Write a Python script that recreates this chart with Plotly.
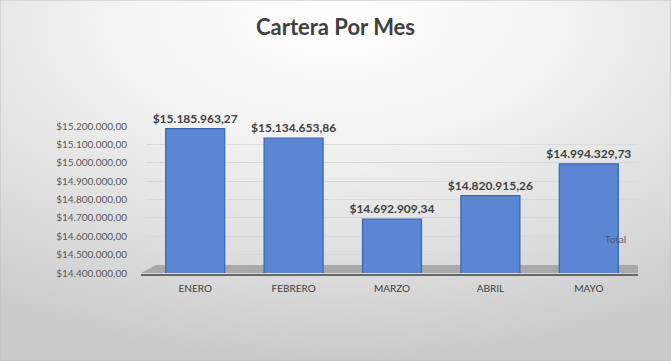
import base64
import plotly.graph_objects as go

meses = ["ENERO", "FEBRERO", "MARZO", "ABRIL", "MAYO"]
cartera = [15185963.27, 15134653.86, 14692909.34, 14820915.26, 14994329.73]
tick_vals = [14400000, 14500000, 14600000, 14700000, 14800000, 14900000, 15000000, 15100000, 15200000]


def fmt_es(v):
    s = f"{v:,.2f}"
    return "$" + s.replace(",", "X").replace(".", ",").replace("X", ".")


tick_text = [fmt_es(v) for v in tick_vals]
labels = [fmt_es(v) for v in cartera]

W, H = 671, 361
ML, MR, MT, MB = 146, 33, 126, 88
PW, PH = W - ML - MR, H - MT - MB

svg = (
    f'<svg xmlns="http://www.w3.org/2000/svg" width="{W}" height="{H}">'
    '<defs><radialGradient id="g" cx="50%" cy="5%" r="95%" fx="50%" fy="5%">'
    '<stop offset="0" stop-color="#ffffff"/>'
    '<stop offset="0.35" stop-color="#f3f3f3"/>'
    '<stop offset="0.7" stop-color="#dedede"/>'
    '<stop offset="1" stop-color="#cacaca"/>'
    '</radialGradient></defs>'
    f'<rect width="{W}" height="{H}" fill="url(#g)"/></svg>'
)
src = "data:image/svg+xml;base64," + base64.b64encode(svg.encode()).decode()

fig = go.Figure()
fig.add_trace(go.Bar(
    x=meses, y=cartera, text=labels, textposition="outside",
    cliponaxis=False, width=0.6, constraintext="none",
    marker=dict(color="#5a86d3", line=dict(color="#3b64b3", width=1.2)),
    textfont=dict(family="Lato", size=12, color="#404040", weight="bold"),
    name="Total", showlegend=False,
))

fig.update_layout(
    width=W, height=H,
    margin=dict(l=ML, r=MR, t=MT, b=MB),
    paper_bgcolor="white", plot_bgcolor="rgba(0,0,0,0)",
    title=dict(text="<b>Cartera Por Mes</b>", x=0.5, xref="container", xanchor="center",
               y=1 - 27 / H, yref="container", yanchor="middle",
               font=dict(family="Lato", size=22, color="#404040")),
    font=dict(family="Lato", color="#595959"),
    bargap=0.4,
    images=[dict(source=src, xref="paper", yref="paper", x=-ML / PW, y=1 + MT / PH,
                 sizex=W / PW, sizey=H / PH, sizing="stretch", xanchor="left",
                 yanchor="top", layer="below")],
    shapes=[
        dict(type="path", xref="paper", yref="paper",
             path=f"M 0.02 {8/PH} L 1.0 {8/PH} L 1.0 0 L -0.01 0 Z",
             fillcolor="#a9a9a9", line=dict(width=0), layer="below"),
        dict(type="line", xref="paper", yref="paper", x0=-0.01, x1=1.0, y0=-2 / PH, y1=-2 / PH,
             line=dict(color="#404040", width=1.5)),
        dict(type="rect", xref="paper", yref="paper", x0=-ML / PW, x1=1 + MR / PW,
             y0=-MB / PH, y1=1 + MT / PH, line=dict(color="#c0c0c0", width=1),
             fillcolor="rgba(0,0,0,0)"),
    ],
    annotations=[dict(text="Total", xref="paper", yref="paper", x=1 - 23 / PW,
                      y=(273 - 247) / PH, showarrow=False, xanchor="center",
                      font=dict(family="Lato", size=10, color="#595959"))],
)
fig.update_yaxes(range=[14400000, 15200000], tickvals=tick_vals, ticktext=tick_text,
                 showgrid=True, gridcolor="#d9d9d9", gridwidth=1, zeroline=False,
                 showline=False, ticks="", ticklabelstandoff=18,
                 tickfont=dict(family="Lato", size=10, color="#595959"))
fig.update_xaxes(showgrid=False, showline=False, ticks="", ticklabelstandoff=8,
                 tickfont=dict(family="Lato", size=10, color="#404040"))

fig.write_html("out.html", post_script="document.body.style.margin='0';",
               config={"displayModeBar": False})
